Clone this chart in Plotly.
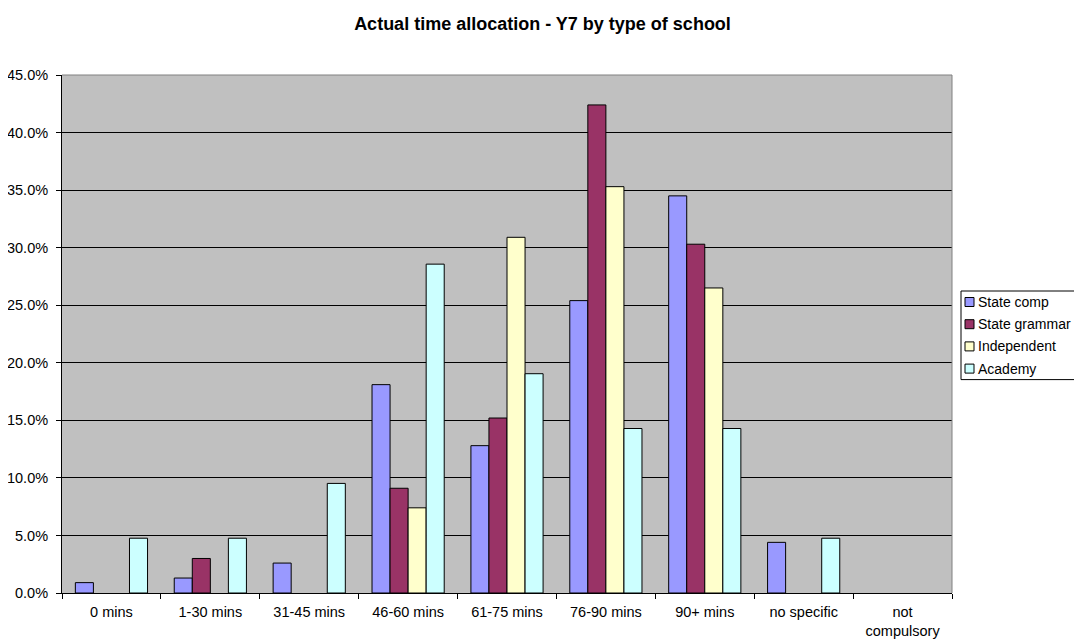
import plotly.graph_objects as go

categories = ["0 mins", "1-30 mins", "31-45 mins", "46-60 mins", "61-75 mins",
              "76-90 mins", "90+ mins", "no specific", "not<br>compulsory"]
state_comp = [0.009, 0.013, 0.026, 0.181, 0.128, 0.254, 0.345, 0.044, 0.0]
state_grammar = [0.0, 0.030, 0.0, 0.091, 0.152, 0.424, 0.303, 0.0, 0.0]
independent = [0.0, 0.0, 0.0, 0.074, 0.309, 0.353, 0.265, 0.0, 0.0]
academy = [0.0476, 0.0476, 0.0952, 0.2857, 0.1905, 0.1429, 0.1429, 0.0476, 0.0]

series_names = ["State comp", "State grammar", "Independent", "Academy"]
series_values = [state_comp, state_grammar, independent, academy]
series_colors = ["#9999FF", "#993366", "#FFFFCC", "#CCFFFF"]

# figure is placed by the page with an 8px body margin
W, H = 1066, 634
L, R, T, B = 54, 122, 67, 49
pw, ph = W - L - R, H - T - B

def px_x(page_x):
    return (page_x - 8 - L) / pw

def px_y(page_y):
    return (H - B - (page_y - 8)) / ph

fig = go.Figure()
for name, vals, color in zip(series_names, series_values, series_colors):
    fig.add_trace(go.Bar(
        x=categories, y=vals, name=name, showlegend=False,
        marker=dict(color=color,
                    line=dict(color="black", width=[1 if v > 0 else 0 for v in vals])),
    ))

fig.update_layout(
    width=W, height=H,
    barmode="group", bargap=0.27, bargroupgap=0,
    paper_bgcolor="white", plot_bgcolor="#C0C0C0",
    font=dict(family="Liberation Sans, Arial, sans-serif", size=14.5, color="black"),
    title=dict(text="<b>Actual time allocation - Y7 by type of school</b>",
               x=534.5 / W, xref="container", xanchor="center",
               y=1 - 15.5 / H, yref="container", yanchor="middle",
               font=dict(size=18, color="black")),
    margin=dict(l=L, r=R, t=T, b=B, autoexpand=False),
    showlegend=False,
)
fig.update_xaxes(
    showline=True, linecolor="black", linewidth=1, mirror=False,
    ticks="outside", tickson="boundaries", ticklen=5, tickcolor="black",
    showgrid=False, tickfont=dict(size=14.5), ticklabelstandoff=6,
)
fig.update_yaxes(
    range=[0, 0.45], dtick=0.05, tickformat=".1%",
    showline=True, linecolor="black", linewidth=1,
    ticks="outside", ticklen=5, tickcolor="black",
    showgrid=True, gridcolor="black", gridwidth=1,
    zeroline=False, tickfont=dict(size=14.5), ticklabelstandoff=5,
)
fig.add_shape(type="line", xref="paper", yref="paper", x0=0, x1=1, y0=1, y1=1,
              line=dict(color="#808080", width=1))
fig.add_shape(type="line", xref="paper", yref="paper", x0=1, x1=1, y0=0, y1=1,
              line=dict(color="#808080", width=1))

# legend box (runs off the right edge, as in the reference)
leg_top, leg_step = 302.0, 22.2
leg_bottom = leg_top + leg_step * 3 + 11
fig.add_shape(type="rect", xref="paper", yref="paper",
              x0=px_x(961), x1=px_x(1090), y0=px_y(291), y1=px_y(leg_bottom),
              line=dict(color="black", width=1), fillcolor="white", layer="above")
for i, (name, color) in enumerate(zip(series_names, series_colors)):
    cy = leg_top + i * leg_step
    fig.add_shape(type="rect", xref="paper", yref="paper",
                  x0=px_x(965), x1=px_x(974), y0=px_y(cy + 4.5), y1=px_y(cy - 4.5),
                  line=dict(color="black", width=1), fillcolor=color, layer="above")
    fig.add_annotation(x=px_x(976), y=px_y(cy), xref="paper", yref="paper",
                       text=name, showarrow=False, xanchor="left", yanchor="middle",
                       font=dict(size=14, color="black"))

fig.write_html("out.html")
